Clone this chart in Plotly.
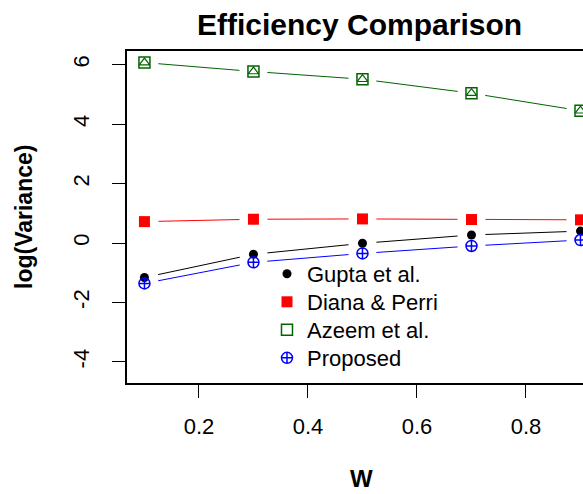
import plotly.graph_objects as go

W = [0.1, 0.3, 0.5, 0.7, 0.9]
gupta = [-1.16, -0.38, -0.01, 0.27, 0.40]
diana = [0.72, 0.80, 0.81, 0.79, 0.78]
azeem = [6.07, 5.77, 5.51, 5.04, 4.45]
proposed = [-1.36, -0.65, -0.35, -0.10, 0.10]

x_ticks = [0.2, 0.4, 0.6, 0.8]
y_ticks = [-4, -2, 0, 2, 4, 6]
y_ticklabels = ["-4", "-2", "0", "2", "4", "6"]

series = [
    ("Gupta et al.", gupta, "#000000", "circle", 9, "legend"),
    ("Diana & Perri", diana, "#FF0000", "square", 11, "legend2"),
    ("Azeem et al.", azeem, "#006400", "square-open", 11, "legend3"),
    ("Proposed", proposed, "#0000FF", "circle-cross-open", 11, "legend4"),
]

FONT = "Liberation Sans, Arial, sans-serif"
fig = go.Figure()

# connecting lines
for name, ys, col, sym, sz, lg in series:
    fig.add_trace(go.Scatter(x=W, y=ys, mode="lines", line=dict(color=col, width=1),
                             showlegend=False, hoverinfo="skip"))
# white masks giving R's type="b" gaps around points
for name, ys, col, sym, sz, lg in series:
    fig.add_trace(go.Scatter(x=W, y=ys, mode="markers",
                             marker=dict(symbol="circle", size=28, color="white", line=dict(width=0)),
                             showlegend=False, hoverinfo="skip"))
# markers
for name, ys, col, sym, sz, lg in series:
    fig.add_trace(go.Scatter(x=W, y=ys, mode="markers", name=name, legend=lg,
                             marker=dict(symbol=sym, size=sz, color=col,
                                         line=dict(color=col, width=1.5 if "open" in sym else 0))))
    if name == "Azeem et al.":
        fig.add_trace(go.Scatter(x=W, y=ys, mode="markers", showlegend=False, hoverinfo="skip",
                                 marker=dict(symbol="triangle-up-open", size=9, color=col,
                                             line=dict(color=col, width=1.2))))

axis_common = dict(showgrid=False, zeroline=False, showline=True, linecolor="black", linewidth=1.5,
                   ticks="outside", ticklen=13, tickwidth=1.2, tickcolor="black",
                   tickfont=dict(family=FONT, size=22, color="black"))

legend_centers = [272, 300, 328, 356]
legend_style = dict(xanchor="left", yanchor="top", bgcolor="rgba(0,0,0,0)",
                    font=dict(family=FONT, size=22, color="black"), borderwidth=0, itemsizing="trace")
legends = {}
for i, c in enumerate(legend_centers):
    key = "legend" if i == 0 else f"legend{i + 1}"
    legends[key] = dict(x=0.307, y=1 - (c - 19 - 51) / 332, **legend_style)

fig.update_layout(
    width=583, height=494,
    margin=dict(l=127, r=0, t=51, b=111),
    paper_bgcolor="white", plot_bgcolor="white",
    font=dict(family=FONT, color="black"),
    showlegend=True,
    **legends,
    xaxis=dict(range=[0.068, 0.9046], tickvals=x_ticks, ticktext=[str(v) for v in x_ticks],
               mirror=True, ticklabelstandoff=10, **axis_common),
    yaxis=dict(range=[-4.71, 6.46], tickvals=y_ticks, ticktext=y_ticklabels,
               tickangle=-90, ticklabelstandoff=14, **axis_common),
    annotations=[
        dict(text="<b>Efficiency Comparison</b>", xref="paper", yref="paper", x=(359 - 127) / 456,
             y=1 + 26 / 332, xanchor="center", yanchor="middle", showarrow=False,
             font=dict(family=FONT, size=30, color="black")),
        dict(text="<b>log(Variance)</b>", xref="paper", yref="paper", x=-(127 - 24) / 456,
             y=0.5, xanchor="center", yanchor="middle", textangle=-90, showarrow=False,
             font=dict(family=FONT, size=23, color="black")),
        dict(text="<b>W</b>", xref="paper", yref="paper", x=(361 - 127) / 456,
             y=-(494 - 383) / 332, xanchor="center", yanchor="bottom", showarrow=False,
             font=dict(family=FONT, size=24, color="black")),
    ],
)

fig.write_html("out.html")
